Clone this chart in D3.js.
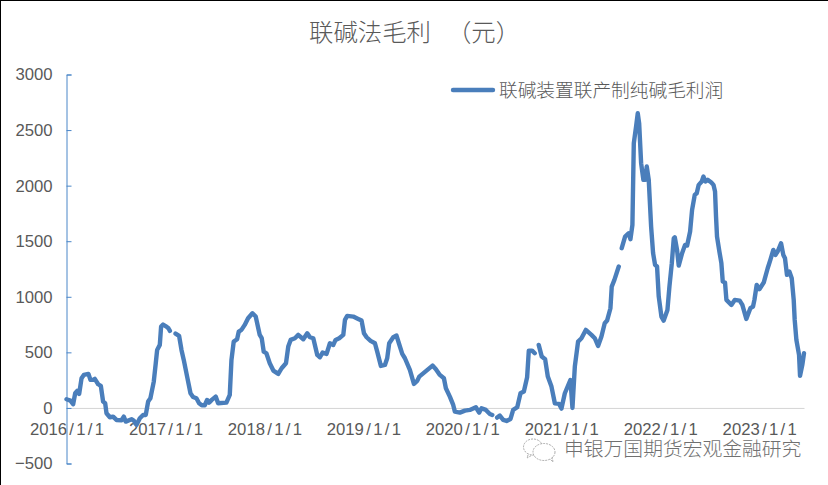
<!DOCTYPE html>
<html>
<head>
<meta charset="utf-8">
<script src="https://cdn.jsdelivr.net/npm/d3@7"></script>
<style>
  html, body { margin: 0; padding: 0; background: #fff; }
  svg { display: block; }
</style>
</head>
<body>
<svg id="chart" width="828" height="485"></svg>
<script>
const chartTitle = "联碱法毛利";
const chartUnit = "（元）";
const legendLabel = "联碱装置联产制纯碱毛利润";
const watermark = "申银万国期货宏观金融研究";
const yTicks = [-500, 0, 500, 1000, 1500, 2000, 2500, 3000];
const xTicks = [2016, 2017, 2018, 2019, 2020, 2021, 2022, 2023];

// dates as decimal years
const dates = [
  2016.000, 2016.040, 2016.067, 2016.088, 2016.108, 2016.128, 2016.152, 2016.175, 2016.222, 2016.242,
  2016.269, 2016.286, 2016.320, 2016.347, 2016.370, 2016.391, 2016.404, 2016.438, 2016.471, 2016.505,
  2016.556, 2016.579, 2016.599, 2016.657, 2016.680, 2016.707, 2016.741, 2016.774, 2016.801, 2016.825,
  2016.848, 2016.882, 2016.902, 2016.916, 2016.943, 2016.956, 2016.976, 2017.010, 2017.030, 2017.045,
  2017.075, 2017.102, 2017.138, 2017.162, 2017.185, 2017.219, 2017.253, 2017.279, 2017.313, 2017.340,
  2017.367, 2017.397, 2017.421, 2017.441, 2017.468, 2017.508, 2017.532, 2017.616, 2017.650, 2017.667,
  2017.690, 2017.724, 2017.741, 2017.768, 2017.801, 2017.835, 2017.879, 2017.912, 2017.953, 2017.973,
  2017.993, 2018.020, 2018.054, 2018.090, 2018.140, 2018.174, 2018.218, 2018.241, 2018.265, 2018.308,
  2018.342, 2018.393, 2018.433, 2018.460, 2018.494, 2018.534, 2018.561, 2018.588, 2018.628, 2018.662,
  2018.696, 2018.719, 2018.756, 2018.797, 2018.814, 2018.837, 2018.898, 2018.948, 2018.982, 2019.006,
  2019.033, 2019.073, 2019.117, 2019.140, 2019.177, 2019.218, 2019.241, 2019.261, 2019.302, 2019.335,
  2019.359, 2019.393, 2019.420, 2019.470, 2019.511, 2019.544, 2019.565, 2019.638, 2019.699, 2019.733,
  2019.773, 2019.814, 2019.834, 2019.874, 2019.908, 2019.925, 2019.975, 2020.026, 2020.076, 2020.137,
  2020.170, 2020.194, 2020.238, 2020.278, 2020.303, 2020.330, 2020.352, 2020.379, 2020.413, 2020.447,
  2020.487, 2020.514, 2020.555, 2020.588, 2020.622, 2020.655, 2020.672, 2020.705, 2020.732, 2020.753,
  2020.772, 2020.803, 2020.837, 2020.864, 2020.901, 2020.935, 2020.978, 2021.002, 2021.036, 2021.093,
  2021.113, 2021.137, 2021.170, 2021.204, 2021.248, 2021.305, 2021.339, 2021.372, 2021.406, 2021.439,
  2021.463, 2021.497, 2021.510, 2021.537, 2021.581, 2021.596, 2021.611, 2021.645, 2021.682, 2021.699,
  2021.719, 2021.733, 2021.756, 2021.773, 2021.787, 2021.807, 2021.830, 2021.847, 2021.864, 2021.884,
  2021.908, 2021.928, 2021.948, 2021.968, 2021.985, 2022.012, 2022.035, 2022.073, 2022.093, 2022.117,
  2022.137, 2022.147, 2022.170, 2022.187, 2022.221, 2022.251, 2022.272, 2022.302, 2022.322, 2022.349,
  2022.369, 2022.389, 2022.420, 2022.437, 2022.457, 2022.480, 2022.514, 2022.538, 2022.554, 2022.564,
  2022.574, 2022.598, 2022.618, 2022.632, 2022.655, 2022.669, 2022.719, 2022.753, 2022.803, 2022.830,
  2022.870, 2022.911, 2022.938, 2022.952, 2022.975, 2023.002, 2023.046, 2023.086, 2023.113, 2023.143,
  2023.164, 2023.187, 2023.221, 2023.244, 2023.261, 2023.281, 2023.305, 2023.329, 2023.349, 2023.359,
  2023.376, 2023.403, 2023.413, 2023.436, 2023.453
];

// null = no data in the source, the line breaks there
const profit = [
  78, 66, 33, 132, 153, 126, 267, 297, 306, 252,
  252, 261, 213, 198, 57, 42, -48, -84, -78, -108,
  -111, -78, -123, -102, -114, -153, -93, -63, -63, 57,
  87, 237, 402, 522, 567, 732, 750, 732, 717, 693,
  null, 669, 648, 522, 432, 282, 132, 99, 87, 42,
  24, 24, 72, 48, 72, 102, 42, 48, 117, 432,
  597, 618, 687, 702, 747, 807, 852, 822, 657, 627,
  507, 492, 402, 336, 306, 357, 402, 552, 612, 627,
  657, 618, 672, 636, 627, 477, 456, 498, 486, 582,
  567, 612, 627, 657, 792, 828, 822, 801, 786, 672,
  636, 603, 582, 507, 378, 387, 447, 582, 636, 651,
  582, 486, 447, 342, 216, 243, 282, 336, 381, 348,
  297, 267, 177, 102, 27, -33, -42, -24, -18, 6,
  -42, -3, -18, -54, -63, null, -87, -69, -108, -117,
  -99, -18, 6, 132, 147, 276, 516, 516, 492, null,
  567, 462, 438, 282, 192, 42, 36, -6, 132, 252,
  0, 372, 597, 627, 702, 657, 627, 558, 642, 762,
  786, 897, 1092, 1152, 1272, null, 1437, 1542, 1572, 1518,
  1647, 2382, 2532, 2652, 2562, 2202, 2052, 2052, 2172, 2052,
  1632, 1392, 1287, 1272, 1002, 822, 786, 882, 1092, 1302,
  1527, 1536, 1422, 1281, 1392, 1467, 1461, 1587, 1782, 1917,
  1932, 2007, 2037, 2082, 2037, 2052, 2031, 2007, 1947, 1722,
  1542, 1407, 1302, 1137, 1128, 972, 927, 972, 966, 927,
  801, 897, 912, 972, 1107, 1068, 1128, 1257, 1332, 1422,
  1377, 1407, 1482, 1377, 1347, 1197, 1227, 1167, 972, 792,
  612, 477, 288, 387, 492
];

const svg = d3.select("#chart");
const width = 828, height = 485;
const latinFont = "'Liberation Sans', Arial, sans-serif";
const cjkFont = "'Noto Sans CJK SC', sans-serif";
const textColor = "#595959";

svg.append("rect").attr("width", width).attr("height", height).attr("fill", "#fff");

// black edge the screenshot has on top and left
svg.append("rect").attr("width", width).attr("height", 1).attr("fill", "#000");
svg.append("rect").attr("width", 1).attr("height", height).attr("fill", "#000");

const x = d3.scaleLinear().domain([2016, 2023.453]).range([66.5, 804]);
const y = d3.scaleLinear().domain([-500, 3000]).range([463.5, 74.5]);

// X Axis
const xAxis = svg.append("g")
    .attr("transform", `translate(0,${y(0)})`)
    .call(d3.axisBottom(x).tickValues(xTicks).tickSize(0).tickPadding(15).tickFormat(d => `${d}/1/1`));
xAxis.select(".domain").attr("stroke", "#d4d4d4").attr("stroke-width", 1);
xAxis.selectAll("text")
    .style("font-family", latinFont)
    .style("font-size", "16.7px")
    .attr("fill", textColor)
    .html(d => `${d}<tspan dx="2.3">/</tspan><tspan dx="2.3">1</tspan><tspan dx="2.3">/</tspan><tspan dx="2.3">1</tspan>`);

// Y Axis, ticks point into the plot
const yAxis = svg.append("g")
    .attr("transform", `translate(${x(2016)},0)`)
    .call(d3.axisLeft(y).tickValues(yTicks).tickSizeInner(-5).tickSizeOuter(-5).tickPadding(14).tickFormat(d3.format("d")));
yAxis.select(".domain").attr("stroke", "#4a86c8").attr("stroke-width", 1);
yAxis.selectAll("line").attr("stroke", "#4a86c8");
yAxis.selectAll("text")
    .style("font-family", latinFont)
    .style("font-size", "16.7px")
    .attr("fill", textColor);

// Title, the unit sits a bit further out than a plain space
const titleText = svg.append("text")
    .attr("x", 309)
    .attr("y", 41)
    .style("font-family", cjkFont)
    .style("font-size", "24.4px")
    .style("font-weight", 300)
    .attr("fill", textColor)
    .text(chartTitle);
titleText.append("tspan")
    .attr("dx", 16)
    .text(chartUnit);

// Line
const line = d3.line()
    .defined(d => d.value !== null)
    .x(d => x(d.date))
    .y(d => y(d.value))
    .curve(d3.curveLinear);

svg.append("path")
    .datum(dates.map((d, i) => ({ date: d, value: profit[i] })))
    .attr("fill", "none")
    .attr("stroke", "#4a7ebb")
    .attr("stroke-width", 4.4)
    .attr("stroke-linejoin", "round")
    .attr("stroke-linecap", "round")
    .attr("d", line);

// Legend
svg.append("line")
    .attr("x1", 453).attr("x2", 493)
    .attr("y1", 90).attr("y2", 90)
    .attr("stroke", "#4a7ebb")
    .attr("stroke-width", 4.4)
    .attr("stroke-linecap", "round");
svg.append("text")
    .attr("x", 499)
    .attr("y", 97)
    .style("font-family", cjkFont)
    .style("font-size", "18.7px")
    .style("font-weight", 300)
    .attr("fill", textColor)
    .text(legendLabel);

// Watermark
svg.append("text")
    .attr("x", 564)
    .attr("y", 456)
    .style("font-family", cjkFont)
    .style("font-size", "19.8px")
    .style("font-weight", 300)
    .attr("fill", "#707070")
    .text(watermark);

const icon = svg.append("g")
    .attr("fill", "#fff")
    .attr("stroke", "#8a8a8a")
    .attr("stroke-width", 0.7)
    .attr("stroke-dasharray", "2 1");
icon.append("path").attr("d", "M529,452 L527,458 L534,454 Z");
icon.append("ellipse").attr("cx", 533).attr("cy", 447).attr("rx", 9.5).attr("ry", 8);
icon.append("path").attr("d", "M549,458 L553,462 L552,456 Z");
icon.append("ellipse").attr("cx", 544).attr("cy", 452).attr("rx", 11).attr("ry", 8.5);
</script>
</body>
</html>
